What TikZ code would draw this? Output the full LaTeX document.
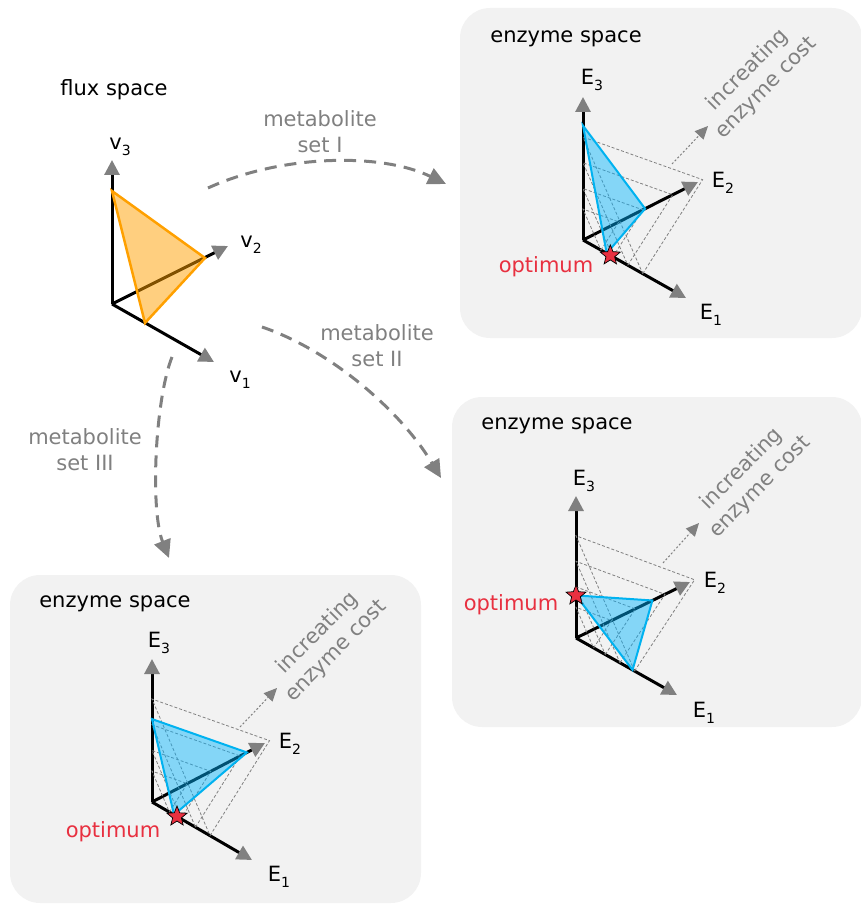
\documentclass[tikz,border=0pt]{standalone}
\usepackage{fontspec}
\setmainfont{DejaVu Sans}
\usetikzlibrary{arrows.meta,shapes.geometric,calc}
\definecolor{boxbg}{RGB}{242,242,242}
\definecolor{arrgray}{RGB}{128,128,128}
\definecolor{optred}{RGB}{232,48,64}
\definecolor{triorange}{RGB}{255,160,0}
\definecolor{triblue}{RGB}{0,180,255}
\definecolor{edgeblue}{RGB}{0,178,240}
\newcommand\sub[1]{\raisebox{-0.28em}{\fontsize{14}{14}\selectfont #1}}
\newcommand\enzaxes[8]{%
  \coordinate (#1o) at (#2);
  \coordinate (#1x) at ($(#1o)+(#3)$);
  \coordinate (#1y) at ($(#1o)+(#4)$);
  \coordinate (#1z) at ($(#1o)+(0,-#5)$);
  \draw[axisline] (#1o) -- (#1x);
  \draw[axisline] (#1o) -- (#1y);
  \draw[axisline] (#1o) -- (#1z);
  \foreach \k in {1,0.75,0.5,0.3}{
    \draw[costline] ($(#1o)!{0.58*\k}!(#1x)$) -- ($(#1o)!{1.04*\k}!(#1y)$) -- ($(#1o)!{0.72*\k}!(#1z)$) -- cycle;
  }
  \filldraw[bluetri] ($(#1o)!#6!(#1x)$) -- ($(#1o)!#7!(#1y)$) -- ($(#1o)!#8!(#1z)$) -- cycle;
}
\begin{document}
\begin{tikzpicture}[x=1pt,y=-1pt,
  every node/.style={font=\fontsize{21}{26}\selectfont, inner sep=0pt},
  panel/.style={fill=boxbg, rounded corners=30pt},
  axisline/.style={line width=3pt, black, -{Triangle[length=15pt,width=15pt,color=arrgray]}},
  costline/.style={arrgray, line width=0.8pt, dash pattern=on 3pt off 2pt},
  costarrow/.style={arrgray, line width=1pt, dash pattern=on 2pt off 2pt, -{Triangle[length=13pt,width=12pt]}},
  flowarrow/.style={arrgray, line width=3pt, dash pattern=on 12pt off 8pt, -{Triangle[length=18pt,width=17pt]}},
  bluetri/.style={fill=triblue, fill opacity=0.45, draw=edgeblue, draw opacity=1, line width=2pt},
  orangetri/.style={fill=triorange, fill opacity=0.5, draw=triorange, draw opacity=1, line width=2.5pt},
  optstar/.style={star, star points=5, star point ratio=2.3, minimum size=21pt, fill=optred, draw=black, line width=0.7pt, inner sep=0pt},
  graytext/.style={text=arrgray, align=center},
  redtext/.style={text=optred}
]
\useasboundingbox (0,0) rectangle (860,904);
% panels
\fill[panel] (460,8) rectangle (862,338);
\fill[panel] (452,397) rectangle (862,727);
\fill[panel] (10,575) rectangle (421,903);

% flux space
\node (fluxtitle) at (114,90) {flux space};
\coordinate (fo) at (112,304);
\coordinate (f1) at (214,362);
\coordinate (f2) at (228,246);
\coordinate (f3) at (112,160);
\draw[axisline] (fo) -- (f1);
\draw[axisline] (fo) -- (f2);
\draw[axisline] (fo) -- (f3);
\filldraw[orangetri] (112,191) -- (205,258) -- (145,323) -- cycle;
\node (lv3) at (120,147) {v\sub{3}};
\node (lv2) at (251,245) {v\sub{2}};
\node (lv1) at (240,380) {v\sub{1}};

% flow arrows
\coordinate (sI) at (208,188);
\coordinate (eI) at (446,184);
\draw[flowarrow] (sI) .. controls (280,155) and (380,152) .. (eI);
\node[graytext] (labI) at (320,132) {metabolite\\set I};
\coordinate (sII) at (262,327);
\coordinate (eII) at (441,478);
\draw[flowarrow] (sII) .. controls (330,350) and (400,410) .. (eII);
\node[graytext] (labII) at (377,346) {metabolite\\set II};
\coordinate (sIII) at (172,357);
\coordinate (eIII) at (169,558);
\draw[flowarrow] (sIII) .. controls (155,400) and (150,510) .. (eIII);
\node[graytext] (labIII) at (85,450) {metabolite\\set III};

% box 1
\node (t1) at (566,39) {enzyme space};
\enzaxes{A}{583,240}{103,58}{115,-58}{143}{0.23}{0.54}{0.80}
\node[optstar] (star1) at ($(Ao)!0.265!(Ax)$) {};
\node[redtext] (opt1) at (546,267) {optimum};
\node (A3) at (592,80) {E\sub{3}};
\node (A2) at (723,183) {E\sub{2}};
\node (A1) at (711,315) {E\sub{1}};
\coordinate (Acs) at (672,164);
\coordinate (Ace) at (708,126);
\draw[costarrow] (Acs) -- (Ace);
\node[graytext, rotate=45] (Acost) at (757,79) {increating\\enzyme cost};

% box 2
\node (t2) at (557,426) {enzyme space};
\enzaxes{B}{576,638}{101,57}{114,-56}{142}{0.56}{0.67}{0.30}
\node[optstar] (star2) at ($(Bo)!0.30!(Bz)$) {};
\node[redtext] (opt2) at (511,605) {optimum};
\node (B3) at (584,481) {E\sub{3}};
\node (B2) at (715,583) {E\sub{2}};
\node (B1) at (704,713) {E\sub{1}};
\coordinate (Bcs) at (663,563);
\coordinate (Bce) at (699,523);
\draw[costarrow] (Bcs) -- (Bce);
\node[graytext, rotate=45] (Bcost) at (751,478) {increating\\enzyme cost};

% box 3
\node (t3) at (115,604) {enzyme space};
\enzaxes{C}{152,802}{100,58}{113,-59}{143}{0.22}{0.84}{0.58}
\node[optstar] (star3) at ($(Co)!0.25!(Cx)$) {};
\node[redtext] (opt3) at (113,832) {optimum};
\node (C3) at (159,643) {E\sub{3}};
\node (C2) at (290,744) {E\sub{2}};
\node (C1) at (279,877) {E\sub{1}};
\coordinate (Ccs) at (240,727);
\coordinate (Cce) at (277,688);
\draw[costarrow] (Ccs) -- (Cce);
\node[graytext, rotate=45] (Ccost) at (327,642) {increating\\enzyme cost};
\end{tikzpicture}
\end{document}
